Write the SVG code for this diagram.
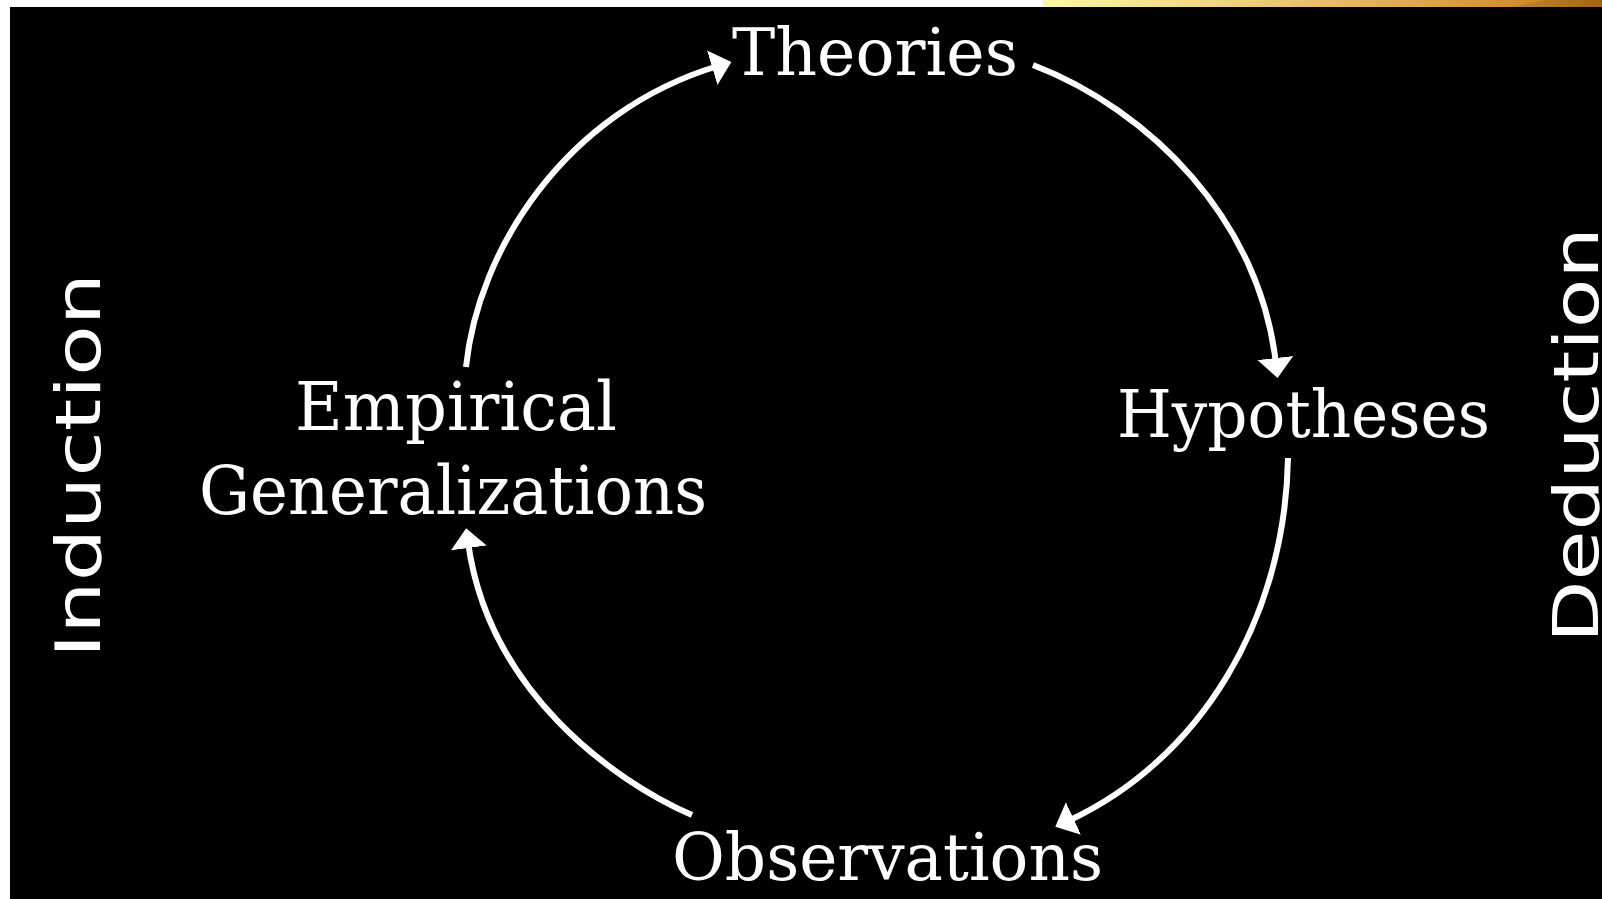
<svg xmlns="http://www.w3.org/2000/svg" width="1602" height="899" viewBox="0 0 1602 899">
  <style>
    .lbl { font-family: "DejaVu Serif", "Liberation Serif", serif; font-size: 65px; fill: #ffffff; }
    .lbl2 { font-family: "DejaVu Serif", "Liberation Serif", serif; font-size: 68px; fill: #ffffff; }
    .side { font-family: "DejaVu Sans", "Liberation Sans", sans-serif; font-size: 62px; fill: #ffffff; }
    .conn { fill: none; stroke: #ffffff; stroke-width: 6; stroke-linecap: butt; }
  </style>
  <defs>
    <linearGradient id="gold" x1="1043" y1="0" x2="1602" y2="0" gradientUnits="userSpaceOnUse">
      <stop offset="0" stop-color="#fdf7a3"/>
      <stop offset="0.3" stop-color="#f0d880"/>
      <stop offset="0.55" stop-color="#e6b85e"/>
      <stop offset="0.82" stop-color="#d6922e"/>
      <stop offset="1" stop-color="#c47f20"/>
    </linearGradient>
    <linearGradient id="goldDark" x1="1510" y1="0" x2="1602" y2="0" gradientUnits="userSpaceOnUse">
      <stop offset="0" stop-color="#c08a2c"/>
      <stop offset="1" stop-color="#a5630f"/>
    </linearGradient>
    <marker id="head" markerUnits="userSpaceOnUse" viewBox="0 0 20 36" markerWidth="20" markerHeight="36" refX="6" refY="18" orient="auto">
      <path d="M0,0 L20,18 L0,36 z" fill="#ffffff"/>
    </marker>
  </defs>

  <rect x="0" y="0" width="1602" height="899" fill="#ffffff"/>
  <rect x="1043" y="0" width="559" height="7" fill="url(#gold)"/>
  <polygon points="1510,7 1545,0 1602,0 1602,7" fill="url(#goldDark)"/>
  <rect x="10" y="7" width="1592" height="892" fill="#000000"/>

  <g id="connectors">
    <path class="conn" d="M466,367 C478,250 565,112 718,66" marker-end="url(#head)"/>
    <path class="conn" d="M1033,65 C1150,110 1260,220 1276,364" marker-end="url(#head)"/>
    <path class="conn" d="M1288,458 C1285,620 1200,760 1068,821" marker-end="url(#head)"/>
    <path class="conn" d="M692,815 C612,780 488,690 468,542" marker-end="url(#head)"/>
  </g>

  <g id="theories">
    <text class="lbl" x="732" y="75" textLength="286" lengthAdjust="spacingAndGlyphs">Theories</text>
  </g>
  <g id="hypotheses">
    <text class="lbl" x="1117" y="437" textLength="373" lengthAdjust="spacingAndGlyphs">Hypotheses</text>
  </g>
  <g id="observations">
    <text class="lbl" x="672" y="880" textLength="431" lengthAdjust="spacingAndGlyphs">Observations</text>
  </g>
  <g id="empirical-generalizations">
    <text class="lbl2" x="295" y="430" textLength="322" lengthAdjust="spacingAndGlyphs">Empirical</text>
    <text class="lbl2" x="199" y="514" textLength="508" lengthAdjust="spacingAndGlyphs">Generalizations</text>
  </g>
  <g id="induction">
    <text class="side" transform="translate(100,658) rotate(-90)" textLength="385" lengthAdjust="spacingAndGlyphs">Induction</text>
  </g>
  <g id="deduction">
    <text class="side" transform="translate(1598,643) rotate(-90)" textLength="416" lengthAdjust="spacingAndGlyphs">Deduction</text>
  </g>
</svg>
